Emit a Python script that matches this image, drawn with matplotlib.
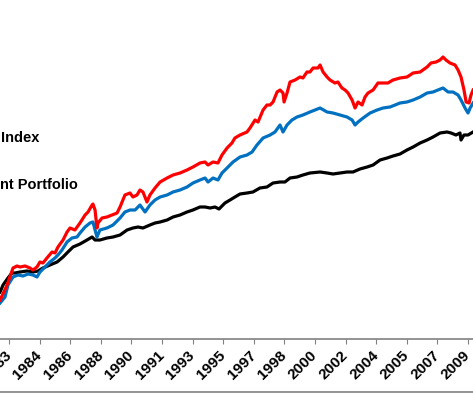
import matplotlib
matplotlib.use("Agg")
import matplotlib.pyplot as plt
from matplotlib.lines import Line2D

plt.rcParams["font.family"] = ["Liberation Sans", "DejaVu Sans"]
plt.rcParams["font.weight"] = "bold"

# dates as decimal years, values as a wealth index
red_t = [1982.49, 1982.89, 1983.23, 1983.46, 1983.63, 1983.92, 1984.20, 1984.37, 1984.60, 1984.77,
         1984.94, 1985.17, 1985.46, 1985.63, 1985.80, 1986.09, 1986.32, 1986.49, 1986.77, 1987.06,
         1987.35, 1987.52, 1987.75, 1987.80, 1987.92, 1988.03, 1988.09, 1988.32, 1988.60, 1988.89,
         1989.18, 1989.35, 1989.63, 1989.92, 1990.09, 1990.32, 1990.49, 1990.66, 1990.89, 1991.06,
         1991.35, 1991.64, 1992.04, 1992.38, 1992.78, 1993.18, 1993.52, 1993.92, 1994.21, 1994.38,
         1994.67, 1994.95, 1995.18, 1995.47, 1995.75, 1995.92, 1996.21, 1996.61, 1996.78, 1997.07,
         1997.24, 1997.53, 1997.75, 1997.93, 1998.10, 1998.33, 1998.50, 1998.67, 1998.73, 1998.90,
         1999.07, 1999.36, 1999.64, 1999.81, 2000.04, 2000.21, 2000.39, 2000.67, 2000.79, 2000.96,
         2001.19, 2001.36, 2001.64, 2001.81, 2002.04, 2002.22, 2002.39, 2002.62, 2002.79, 2002.96,
         2003.19, 2003.36, 2003.53, 2003.82, 2004.10, 2004.39, 2004.67, 2004.96, 2005.36, 2005.76,
         2006.11, 2006.51, 2006.91, 2007.13, 2007.42, 2007.65, 2007.82, 2007.99, 2008.22, 2008.51,
         2008.68, 2008.85, 2009.02, 2009.14, 2009.31, 2009.42, 2009.54]
red_v = [39, 54, 71, 73, 72, 73, 71, 69, 72, 77,
         76, 81, 87, 86, 92, 99, 107, 111, 109, 116,
         124, 127, 134, 135, 129, 111, 116, 121, 122, 124,
         126, 132, 144, 146, 142, 144, 149, 147, 137, 144,
         151, 157, 161, 164, 166, 169, 172, 176, 177, 174,
         177, 176, 184, 191, 196, 201, 204, 207, 211, 219,
         217, 229, 234, 234, 237, 247, 249, 246, 237, 246,
         257, 259, 262, 261, 267, 267, 271, 271, 274, 267,
         262, 259, 256, 257, 251, 249, 246, 239, 231, 237,
         234, 242, 246, 249, 256, 256, 256, 259, 261, 262,
         266, 267, 272, 276, 277, 279, 282, 279, 276, 274,
         269, 262, 249, 237, 236, 244, 249]

blue_t = [1982.49, 1982.77, 1982.94, 1983.23, 1983.51, 1983.80, 1984.09, 1984.37, 1984.60, 1984.77,
          1985.06, 1985.34, 1985.63, 1985.80, 1986.03, 1986.32, 1986.60, 1986.89, 1987.06, 1987.35,
          1987.63, 1987.80, 1988.03, 1988.20, 1988.60, 1988.95, 1989.35, 1989.63, 1989.92, 1990.21,
          1990.49, 1990.78, 1991.06, 1991.35, 1991.64, 1992.04, 1992.38, 1992.78, 1993.18, 1993.52,
          1993.92, 1994.21, 1994.38, 1994.67, 1994.95, 1995.18, 1995.47, 1995.81, 1996.21, 1996.61,
          1996.90, 1997.18, 1997.53, 1997.93, 1998.21, 1998.50, 1998.67, 1998.90, 1999.18, 1999.47,
          1999.81, 2000.21, 2000.50, 2000.79, 2001.19, 2001.53, 2001.93, 2002.33, 2002.62, 2002.79,
          2002.96, 2003.25, 2003.65, 2004.05, 2004.39, 2004.79, 2005.08, 2005.36, 2005.76, 2006.11,
          2006.51, 2006.91, 2007.25, 2007.53, 2007.82, 2008.11, 2008.39, 2008.68, 2008.85, 2009.08,
          2009.25, 2009.37, 2009.54]
blue_v = [36, 42, 54, 62, 64, 63, 65, 64, 62, 67,
          72, 77, 81, 84, 89, 97, 101, 102, 106, 112,
          116, 117, 102, 109, 111, 114, 121, 127, 129, 129,
          134, 127, 134, 139, 142, 144, 147, 149, 152, 156,
          159, 161, 157, 161, 159, 166, 171, 177, 182, 184,
          187, 194, 201, 204, 207, 214, 207, 214, 219, 222,
          224, 227, 229, 231, 227, 226, 224, 222, 219, 214,
          217, 221, 226, 229, 231, 232, 234, 236, 237, 239,
          242, 246, 247, 249, 251, 247, 247, 244, 239, 231,
          226, 231, 236]

black_t = [1982.49, 1982.66, 1982.94, 1983.17, 1983.34, 1983.63, 1984.03, 1984.37, 1984.66, 1984.94,
           1985.34, 1985.75, 1986.09, 1986.37, 1986.66, 1987.06, 1987.46, 1987.75, 1987.92, 1988.20,
           1988.60, 1988.95, 1989.35, 1989.75, 1990.09, 1990.38, 1990.66, 1991.06, 1991.35, 1991.64,
           1992.04, 1992.38, 1992.78, 1993.18, 1993.52, 1993.92, 1994.21, 1994.50, 1994.78, 1995.01,
           1995.35, 1995.64, 1995.92, 1996.21, 1996.61, 1996.95, 1997.35, 1997.75, 1998.10, 1998.50,
           1998.78, 1999.07, 1999.47, 1999.81, 2000.21, 2000.79, 2001.19, 2001.53, 2001.93, 2002.33,
           2002.67, 2003.07, 2003.48, 2003.82, 2004.22, 2004.62, 2004.96, 2005.36, 2005.76, 2006.11,
           2006.51, 2006.91, 2007.25, 2007.65, 2008.05, 2008.28, 2008.56, 2008.79, 2008.85, 2009.02,
           2009.25, 2009.54]
black_v = [47, 54, 61, 66, 66, 67, 68, 67, 68, 71,
           74, 77, 82, 87, 92, 95, 99, 102, 99, 99,
           101, 102, 104, 109, 111, 112, 111, 114, 116, 117,
           119, 122, 124, 127, 129, 132, 132, 131, 132, 130,
           136, 139, 142, 145, 146, 147, 151, 152, 156, 157,
           157, 161, 162, 164, 166, 167, 166, 165, 166, 167,
           167, 170, 172, 174, 179, 181, 183, 185, 189, 192,
           196, 199, 202, 206, 207, 206, 204, 206, 199, 204,
           204, 207]

tick_labels = ["1983", "1984", "1986", "1988", "1990", "1991", "1993", "1995",
               "1997", "1998", "2000", "2002", "2004", "2005", "2007", "2009"]
tick_step = 21 / 12  # one label every 21 months

fig = plt.figure(figsize=(4.73, 3.95), dpi=100)
ax = fig.add_axes([0, 56 / 395, 1, 339 / 395])

ax.plot(black_t, black_v, color="black", lw=2.3, solid_joinstyle="round")
ax.plot(blue_t, blue_v, color="#0070C0", lw=2.3, solid_joinstyle="round")
ax.plot(red_t, red_v, color="#FF0000", lw=2.3, solid_joinstyle="round")

ax.set_xlim(1982.485, 2009.535)
ax.set_ylim(0, 339)

ticks = [1983 + tick_step * i for i in range(len(tick_labels))]
ax.set_xticks(ticks)
ax.set_xticklabels(tick_labels, rotation=45, ha="right", va="center",
                   rotation_mode="anchor", fontsize=11, fontweight="bold")
ax.tick_params(axis="x", direction="out", length=3.5, color="#808080", pad=7)
ax.set_yticks([])
for s in ["left", "right", "top"]:
    ax.spines[s].set_visible(False)
ax.spines["bottom"].set_color("#808080")
ax.spines["bottom"].set_linewidth(1.2)

fig.add_artist(Line2D([0, 1], [3 / 395, 3 / 395], color="#808080", lw=1.2))

fig.text(1 / 473, 1 - 142 / 395, "Index", fontsize=10.5, fontweight="bold", va="baseline")
fig.text(0, 1 - 189 / 395, "nt Portfolio", fontsize=10.5, fontweight="bold", va="baseline")

fig.savefig("out.png", dpi=100)
